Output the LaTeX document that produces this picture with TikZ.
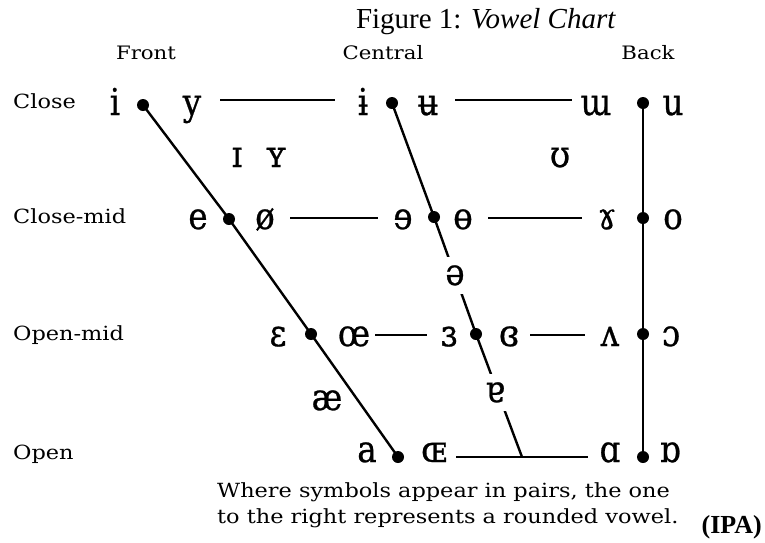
\documentclass[tikz,border=0pt]{standalone}
\usepackage{fontspec}
\setmainfont{Liberation Serif}
\newfontfamily\ipafont[FakeBold=0.7, FakeStretch=0.88]{DejaVu Serif}
\newfontfamily\labfont[FakeStretch=1.15]{DejaVu Serif}
\begin{document}
\begin{tikzpicture}[x=1pt,y=-1pt,
  sym/.style={anchor=base, inner sep=0pt, font=\ipafont\fontsize{37}{37}\selectfont},
  gapsym/.style={sym, fill=white, inner xsep=4pt, inner ysep=8pt},
  rowlab/.style={anchor=base west, inner sep=0pt, font=\labfont\fontsize{19.5}{19.5}\selectfont},
  colhead/.style={anchor=base, inner sep=0pt, font=\labfont\fontsize{18.5}{18.5}\selectfont},
  note/.style={anchor=base west, inner sep=0pt, font=\labfont\fontsize{19.5}{19.5}\selectfont},
  dotn/.style={circle, fill=black, inner sep=0pt, minimum size=12pt},
  ln/.style={line width=2.4pt}]
\useasboundingbox (0,0) rectangle (765,542);

% title and headings
\node[anchor=base, inner sep=0pt, font=\fontsize{29}{29}\selectfont] (title) at (486,28) {Figure 1: \textit{Vowel Chart}};
\node[colhead] (front) at (146,59) {Front};
\node[colhead] (central) at (383,59) {Central};
\node[colhead] (back) at (648,59) {Back};

% row labels
\node[rowlab] (close) at (13,108) {Close};
\node[rowlab] (closemid) at (13,223) {Close-mid};
\node[rowlab] (openmid) at (13,340) {Open-mid};
\node[rowlab] (open) at (13,459) {Open};

% dots
\node[dotn] (di) at (143,105) {};
\node[dotn] (de) at (229,219) {};
\node[dotn] (deps) at (311,334) {};
\node[dotn] (da) at (398,457) {};
\node[dotn] (dibar) at (392,103) {};
\node[dotn] (drevE) at (434,217) {};
\node[dotn] (drevEps) at (476,334) {};
\node[dotn] (dw) at (643,103) {};
\node[dotn] (dgam) at (643,218) {};
\node[dotn] (dv) at (643,334) {};
\node[dotn] (dalpha) at (643,457) {};
\coordinate (jn) at (522,457);

% horizontal line ends
\coordinate (h1a) at (220,100); \coordinate (h1b) at (335,100);
\coordinate (h2a) at (455,100); \coordinate (h2b) at (572,100);
\coordinate (h3a) at (290,218); \coordinate (h3b) at (378,218);
\coordinate (h4a) at (488,218); \coordinate (h4b) at (582,218);
\coordinate (h5a) at (375,335); \coordinate (h5b) at (427,335);
\coordinate (h6a) at (530,335); \coordinate (h6b) at (585,335);
\coordinate (h7a) at (456,457); \coordinate (h7b) at (588,457);

% lines
\draw[ln] (di.center) -- (de.center) -- (deps.center) -- (da.center);
\draw[ln] (dibar.center) -- (drevE.center) -- (drevEps.center) -- (jn);
\draw[ln] (dw.center) -- (dgam.center) -- (dv.center) -- (dalpha.center);
\draw[ln] (h1a) -- (h1b);
\draw[ln] (h2a) -- (h2b);
\draw[ln] (h3a) -- (h3b);
\draw[ln] (h4a) -- (h4b);
\draw[ln] (h5a) -- (h5b);
\draw[ln] (h6a) -- (h6b);
\draw[ln] (h7a) -- (h7b);

% symbols: close
\node[sym] (s-i) at (115,115) {i};
\node[sym] (s-y) at (192,115) {y};
\node[sym] (s-ibar) at (363,115) {ɨ};
\node[sym] (s-ubar) at (428,115) {ʉ};
\node[sym] (s-turnm) at (596,115) {ɯ};
\node[sym] (s-u) at (673,115) {u};
\node[sym] (s-smi) at (237,167) {ɪ};
\node[sym] (s-smy) at (276,167) {ʏ};
\node[sym] (s-ups) at (560,167) {ʊ};
% close-mid
\node[sym] (s-e) at (198,229) {e};
\node[sym] (s-oslash) at (265,229) {ø};
\node[sym] (s-reve) at (403,229) {ɘ};
\node[sym] (s-baro) at (463,229) {ɵ};
\node[sym] (s-rams) at (607,229) {ɤ};
\node[sym] (s-o) at (673,229) {o};
% mid
\node[gapsym] (s-schwa) at (455,285) {ə};
% open-mid
\node[sym] (s-eps) at (278,346) {ɛ};
\node[sym] (s-oe) at (354,346) {œ};
\node[sym] (s-reveps) at (449,346) {ɜ};
\node[sym] (s-clreveps) at (509,346) {ɞ};
\node[sym] (s-turnv) at (610,346) {ʌ};
\node[sym] (s-openo) at (671,346) {ɔ};
% near-open
\node[sym] (s-ae) at (327,410) {æ};
\node[gapsym] (s-turna) at (495,402) {ɐ};
% open
\node[sym] (s-a) at (367,462) {a};
\node[sym] (s-smoe) at (434,462) {ɶ};
\node[sym] (s-alpha) at (610,462) {ɑ};
\node[sym] (s-turnalpha) at (670,462) {ɒ};

% notes
\node[note] (note1) at (217,497) {Where symbols appear in pairs, the one};
\node[note] (note2) at (217,523) {to the right represents a rounded vowel.};
\node[anchor=base east, inner sep=0pt, font=\bfseries\fontsize{26}{26}\selectfont] (ipa) at (762,533) {(IPA)};
\end{tikzpicture}
\end{document}
